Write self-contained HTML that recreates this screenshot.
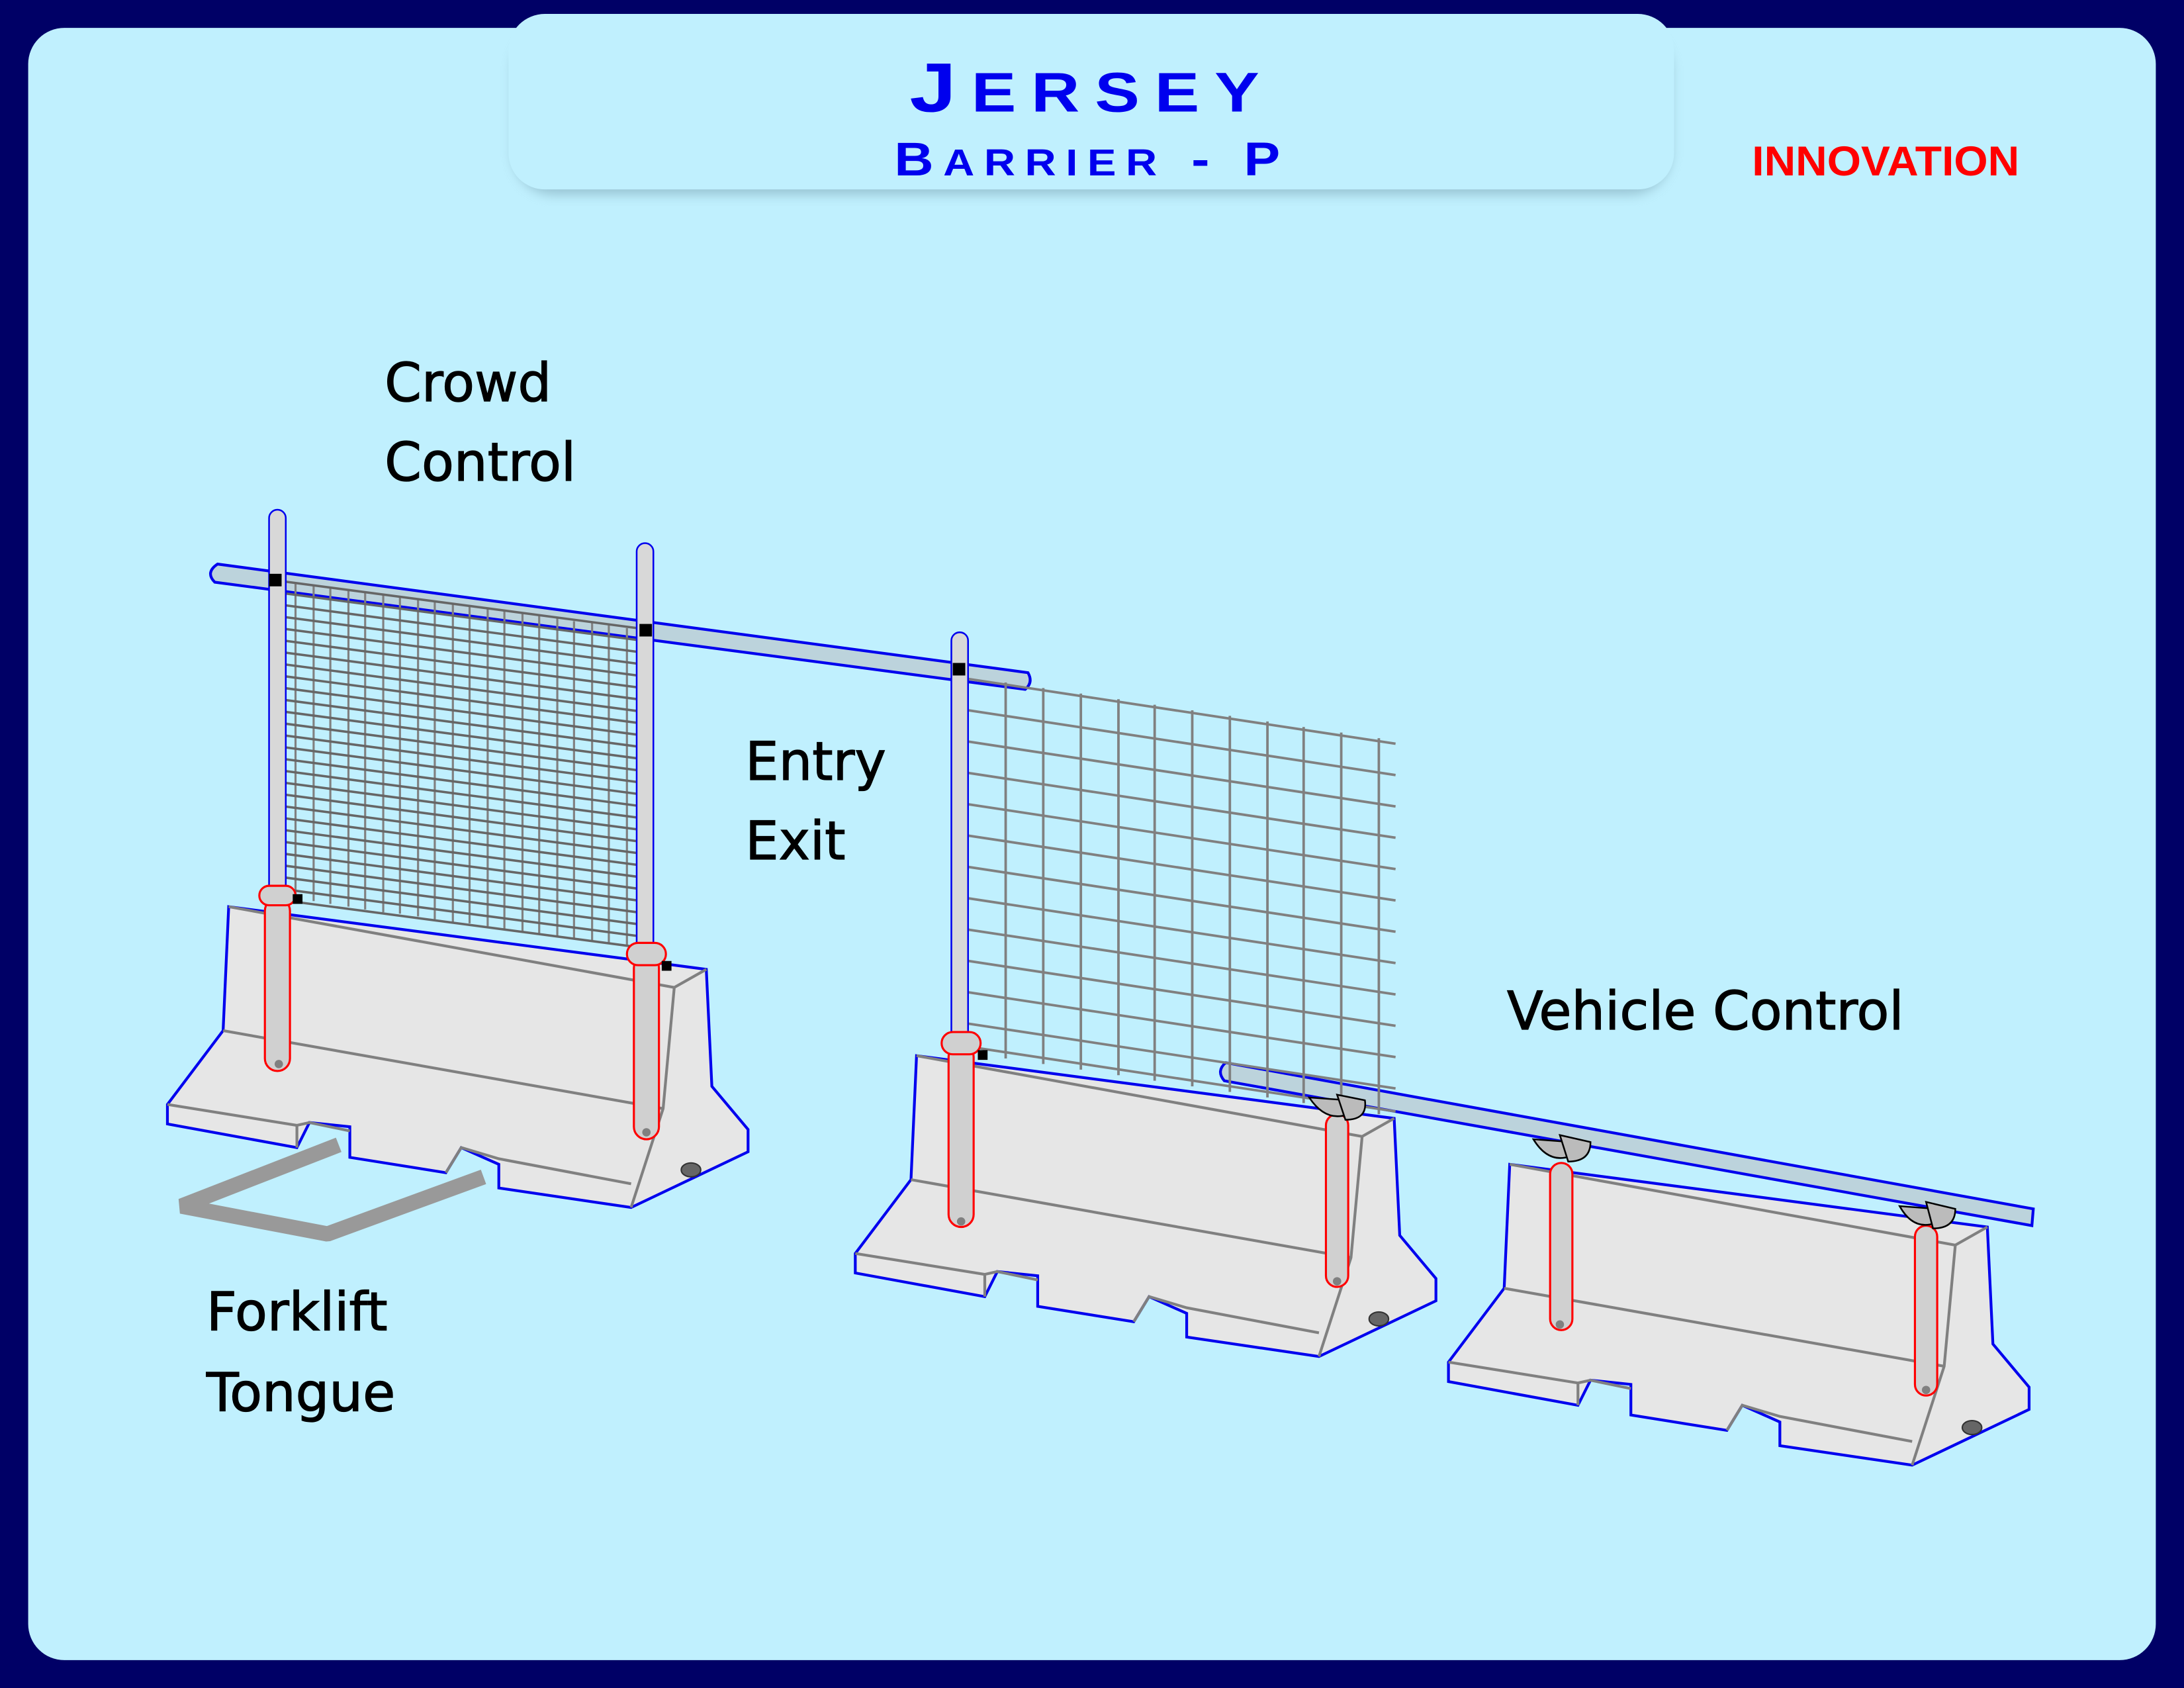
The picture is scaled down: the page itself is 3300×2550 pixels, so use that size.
<!DOCTYPE html>
<html><head><meta charset="utf-8"><style>
html,body{margin:0;padding:0;background:#000066;}
svg{display:block;}
.lbl{font-family:"DejaVu Sans","Liberation Sans",sans-serif;font-size:38px;fill:#000;stroke:#000;stroke-width:0.6px;}
</style></head><body>
<svg width="3300" height="2550" viewBox="0 0 1568 1212" xmlns="http://www.w3.org/2000/svg">
<defs>
<filter id="sh" x="-5%" y="-20%" width="110%" height="140%"><feGaussianBlur stdDeviation="4"/></filter>
<g id="blk">
<path d="M164,651 L507,696 L511,780 L537,811 L537,827 L453,867 L358,853 L358,836 L331,824 L320,842 L251,831 L251,809 L222,806 L213,824 L120,807 L120,793 L160,740 Z" fill="#e6e6e6" stroke="#0000ee" stroke-width="2"/>
<path d="M164,651 L484,709 L476,796 L453,867 M484,709 L507,696 M160,740 L476,796 M120,793 L213,808 L213,824 M213,808 L222,806 L251,812 M320,842 L331,824 L358,832 L453,850" fill="none" stroke="#808080" stroke-width="2"/>
<ellipse cx="496" cy="840" rx="7" ry="5" fill="#666" stroke="#333"/>
</g>
</defs>
<rect x="0" y="0" width="1568" height="1212" fill="#000066"/>
<rect x="20" y="20" width="1528" height="1172" rx="26" fill="#c0f0fe"/>
<rect x="368" y="20" width="832" height="120" rx="30" fill="#7fa8b8" filter="url(#sh)" opacity="0.6"/>
<rect x="365" y="10" width="837" height="126" rx="26" fill="#c0f0fe"/>
<text x="784" y="80" text-anchor="middle" font-family="Liberation Sans,sans-serif" font-weight="bold" font-size="50" fill="#0000ee" letter-spacing="9" textLength="262" lengthAdjust="spacingAndGlyphs">J<tspan font-size="40">ERSEY</tspan></text>
<text x="784" y="126" text-anchor="middle" font-family="Liberation Sans,sans-serif" font-weight="bold" font-size="34" fill="#0000ee" letter-spacing="6" textLength="284" lengthAdjust="spacingAndGlyphs">B<tspan font-size="27">ARRIER</tspan> - P</text>
<text x="1354" y="126" text-anchor="middle" font-family="Liberation Sans,sans-serif" font-weight="bold" font-size="30" fill="#ff0000" textLength="192" lengthAdjust="spacingAndGlyphs">INNOVATION</text>

<text class="lbl" x="276" y="288">Crowd</text>
<text class="lbl" x="276" y="345">Control</text>
<text class="lbl" x="535" y="560">Entry</text>
<text class="lbl" x="535" y="617">Exit</text>
<text class="lbl" x="1082" y="739" textLength="285" lengthAdjust="spacingAndGlyphs">Vehicle Control</text>
<text class="lbl" x="148" y="955">Forklift</text>
<text class="lbl" x="148" y="1013">Tongue</text>

<!-- forklift tongue -->
<path d="M243,822 L130,866 L235,886 L347,845" fill="none" stroke="#999" stroke-width="11" stroke-linejoin="bevel"/>

<!-- barriers -->
<use href="#blk"/>
<use href="#blk" transform="translate(494,107)"/>
<use href="#blk" transform="translate(920,185)"/>

<!-- top rail crowd/entry -->
<path d="M156,405 L738,483 Q742,490 736,495 L154,418 Q147,411 156,405 Z" fill="#bcd3dc" stroke="#0000ee" stroke-width="2"/>
<!-- vehicle rail -->
<path d="M880,763 L1460,868 L1459,880 L879,776 Q873,769 880,763 Z" fill="#bcd3dc" stroke="#0000ee" stroke-width="2"/>

<!-- mesh 1 -->
<g stroke="#808080" stroke-width="1.5" fill="none">
<path d="M212,418 V645 M225,420 V647 M237,422 V649 M250,423 V651 M262,425 V653 M275,427 V655 M287,429 V656 M300,430 V658 M312,432 V660 M325,434 V662 M337,435 V663 M350,437 V665 M362,439 V667 M375,440 V669 M387,442 V670 M400,444 V672 M412,446 V674 M425,447 V676 M437,449 V677 M450,451 V679"/>
</g>
<g stroke="#666" stroke-width="1.7">
<path id="h1" d="M200,417 L465,452"/>
<use href="#h1" y="8.5"/><use href="#h1" y="17"/><use href="#h1" y="25.5"/><use href="#h1" y="34"/><use href="#h1" y="42.5"/><use href="#h1" y="51"/><use href="#h1" y="59.5"/><use href="#h1" y="68"/><use href="#h1" y="76.5"/><use href="#h1" y="85"/><use href="#h1" y="93.5"/><use href="#h1" y="102"/><use href="#h1" y="110.5"/><use href="#h1" y="119"/><use href="#h1" y="127.5"/><use href="#h1" y="136"/><use href="#h1" y="144.5"/><use href="#h1" y="153"/><use href="#h1" y="161.5"/><use href="#h1" y="170"/><use href="#h1" y="178.5"/><use href="#h1" y="187"/><use href="#h1" y="195.5"/><use href="#h1" y="204"/><use href="#h1" y="212.5"/><use href="#h1" y="221"/><use href="#h1" y="229"/>
</g>
<!-- mesh 2 -->
<g stroke="#808080" stroke-width="1.8">
<path d="M722,490 V760 M749,494 V764 M776,498 V768 M803,502 V772 M829,506 V776 M856,510 V780 M883,514 V784 M910,518 V788 M936,522 V792 M963,526 V796 M990,530 V800"/>
<path id="h2" d="M692,487 L1002,534"/>
<use href="#h2" y="22.5"/><use href="#h2" y="45"/><use href="#h2" y="67.5"/><use href="#h2" y="90"/><use href="#h2" y="112.5"/><use href="#h2" y="135"/><use href="#h2" y="157.5"/><use href="#h2" y="180"/><use href="#h2" y="202.5"/><use href="#h2" y="225"/><use href="#h2" y="247.5"/><use href="#h2" y="264"/>
</g>

<!-- posts -->
<g fill="#d8d8d8" stroke="#0000ee" stroke-width="1.2">
<rect x="193" y="366" width="12" height="285" rx="6"/>
<rect x="457" y="390" width="12" height="300" rx="6"/>
<rect x="683" y="454" width="12" height="300" rx="6"/>
</g>
<!-- sleeves -->
<g fill="#d0d0d0" stroke="#ff0000" stroke-width="1.5">
<rect x="190" y="645" width="18" height="124" rx="9"/>
<rect x="186" y="636" width="26" height="14" rx="7"/>
<rect x="455" y="686" width="18" height="132" rx="9"/>
<rect x="450" y="677" width="28" height="16" rx="8"/>
<rect x="681" y="750" width="18" height="131" rx="9"/>
<rect x="676" y="741" width="28" height="16" rx="8"/>
<rect x="952" y="800" width="16" height="124" rx="8"/>
<rect x="1113" y="835" width="16" height="120" rx="8"/>
<rect x="1375" y="880" width="16" height="122" rx="8"/>
</g>
<g fill="#808080"><circle cx="200" cy="764" r="3"/><circle cx="464" cy="813" r="3"/><circle cx="690" cy="877" r="3"/><circle cx="960" cy="920" r="3"/><circle cx="1120" cy="951" r="3"/><circle cx="1383" cy="998" r="3"/></g>
<!-- clamps -->
<g fill="#bbb" stroke="#000" stroke-width="1.2">
<path d="M940,788 Q952,806 968,800 L968,790 Z"/><path d="M960,786 L980,790 Q982,804 966,804 Z"/>
<path d="M1101,818 Q1112,836 1128,830 L1128,820 Z"/><path d="M1120,815 L1142,820 Q1142,834 1126,834 Z"/>
<path d="M1364,866 Q1374,884 1390,878 L1390,868 Z"/><path d="M1383,863 L1404,868 Q1404,882 1388,882 Z"/>
</g>
<!-- black clips -->
<g fill="#000"><rect x="193" y="412" width="9" height="9"/><rect x="459" y="448" width="9" height="9"/><rect x="684" y="476" width="9" height="9"/><rect x="210" y="642" width="7" height="7"/><rect x="475" y="690" width="7" height="7"/><rect x="702" y="754" width="7" height="7"/></g>
</svg>
</body></html>
